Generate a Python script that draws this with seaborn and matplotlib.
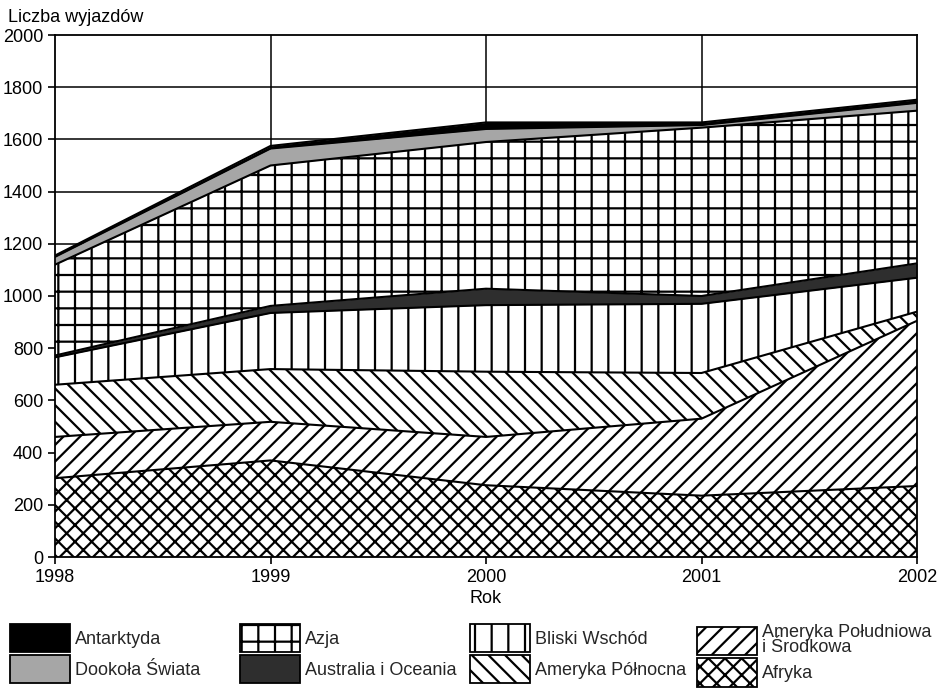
import numpy as np
import pandas as pd
import seaborn as sns
import matplotlib.pyplot as plt
from matplotlib.patches import Patch

# Data
years = [1998, 1999, 2000, 2001, 2002]
afryka = [302, 370, 275, 235, 272]
ameryka_pld = [158, 148, 185, 295, 633]
ameryka_pln = [200, 202, 250, 175, 35]
bliski_wschod = [105, 215, 255, 265, 130]
australia = [7, 27, 63, 30, 55]
azja = [348, 538, 562, 645, 585]
dookola = [30, 65, 50, 10, 30]
antarktyda = [5, 10, 25, 10, 12]

layers = [
    ("Afryka", afryka, "white", "xx"),
    ("Ameryka Południowa\ni Środkowa", ameryka_pld, "white", "//"),
    ("Ameryka Północna", ameryka_pln, "white", "\\\\"),
    ("Bliski Wschód", bliski_wschod, "white", "|"),
    ("Australia i Oceania", australia, "#2e2e2e", None),
    ("Azja", azja, "white", "+"),
    ("Dookoła Świata", dookola, "#a6a6a6", None),
    ("Antarktyda", antarktyda, "black", None),
]

sns.set_theme(style="white")
plt.rcParams['font.family'] = ['Liberation Sans', 'DejaVu Sans']
plt.rcParams['hatch.linewidth'] = 1.6
plt.rcParams['hatch.color'] = 'black'

fig = plt.figure(figsize=(9.38, 6.89), dpi=100)
ax = fig.add_axes([55 / 938, 1 - 557 / 689, 862 / 938, 522 / 689])

# grid under the filled areas
for y in range(200, 2000, 200):
    ax.axhline(y, color='black', lw=1.1, zorder=0)
for x in years[1:-1]:
    ax.axvline(x, color='black', lw=1.1, zorder=0)

bottom = np.zeros(len(years))
for name, vals, face, hatch in layers:
    top = bottom + np.array(vals)
    ax.fill_between(years, bottom, top, facecolor=face, hatch=hatch,
                    edgecolor='black', lw=0, zorder=1)
    sns.lineplot(x=years, y=top, color='black', lw=1.5, ax=ax, zorder=2)
    bottom = top

ax.set_xlim(1998, 2002)
ax.set_ylim(0, 2000)
ax.set_xticks(years)
ax.set_yticks(range(0, 2001, 200))
ax.tick_params(axis='both', labelsize=13, colors='black', direction='out',
               length=5, width=1.2, bottom=True, left=True)
for s in ax.spines.values():
    s.set_color('black')
    s.set_linewidth(1.3)
    s.set_zorder(3)

ax.set_xlabel("Rok", fontsize=13, color='black', labelpad=3)
ax.set_ylabel("")
fig.text(8 / 938, 1 - 18 / 689, "Liczba wyjazdów", fontsize=13,
         color='black', va='center', ha='left')

# legend: four columns of two entries each
columns = [
    (10, ["Antarktyda", "Dookoła Świata"]),
    (240, ["Azja", "Australia i Oceania"]),
    (470, ["Bliski Wschód", "Ameryka Północna"]),
    (697, ["Ameryka Południowa\ni Środkowa", "Afryka"]),
]
lookup = {n: (f, h) for n, v, f, h in layers}
for xpos, names in columns:
    handles = [Patch(facecolor=lookup[n][0], hatch=lookup[n][1], edgecolor='black',
                     lw=1.3, label=n) for n in names]
    leg = fig.legend(handles=handles, ncol=1, loc='upper left',
                     bbox_to_anchor=(xpos / 938, 1 - 624 / 689), frameon=False,
                     fontsize=13, handlelength=3.3, handleheight=2.05,
                     handletextpad=0.3, labelspacing=0.12,
                     borderaxespad=0, borderpad=0)
    for t in leg.get_texts():
        t.set_linespacing(0.85)

fig.savefig("out.png", dpi=100)
